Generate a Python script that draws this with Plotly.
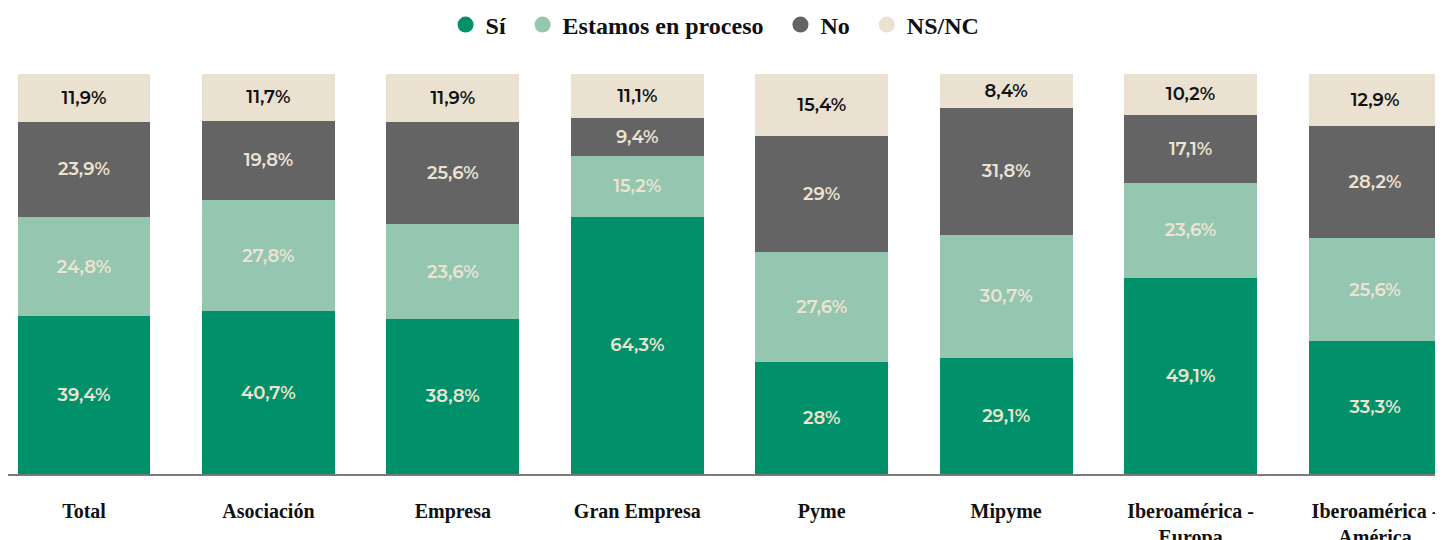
import plotly.graph_objects as go

categories = ["Total", "Asociación", "Empresa", "Gran Empresa", "Pyme", "Mipyme",
              "Iberoamérica -<br>Europa", "Iberoamérica -<br>América"]
si = [39.4, 40.7, 38.8, 64.3, 28, 29.1, 49.1, 33.3]
proceso = [24.8, 27.8, 23.6, 15.2, 27.6, 30.7, 23.6, 25.6]
no = [23.9, 19.8, 25.6, 9.4, 29, 31.8, 17.1, 28.2]
nsnc = [11.9, 11.7, 11.9, 11.1, 15.4, 8.4, 10.2, 12.9]

series = [
    ("Sí", si, "#00916A", "#EDE3D2"),
    ("Estamos en proceso", proceso, "#94C6B0", "#EDE3D2"),
    ("No", no, "#646464", "#EDE3D2"),
    ("NS/NC", nsnc, "#EAE1D1", "#111111"),
]

def fmt(v):
    return f"{v:g}".replace(".", ",") + "%"

fig = go.Figure()
for k, (name, vals, color, tcolor) in enumerate(series):
    fig.add_trace(go.Bar(
        x=categories, y=vals, name=name, marker=dict(color=color, line=dict(width=0)),
        width=0.72, text=[fmt(v) for v in vals], textposition="inside",
        insidetextanchor="middle", textangle=0,
        textfont=dict(family="Montserrat, Open Sans, sans-serif", size=18, color=tcolor, weight=600),
        showlegend=False, hoverinfo="skip",
    ))
    pad = "\u00a0\u00a0" if k < len(series) - 1 else ""
    fig.add_trace(go.Scatter(
        x=[None], y=[None], mode="markers", name=name + pad,
        marker=dict(color=color, size=17, symbol="circle"), showlegend=True,
    ))

fig.update_layout(
    barmode="stack",
    width=1443, height=540,
    margin=dict(l=0, r=0, t=66, b=74, autoexpand=False),
    plot_bgcolor="white", paper_bgcolor="white",
    uniformtext=dict(minsize=8, mode="show"),
    legend=dict(orientation="h", x=0.49, xanchor="center", y=1.1225, yanchor="middle",
                font=dict(family="Liberation Serif, serif", size=24, color="#111111", weight=700),
                itemsizing="trace", itemwidth=30, traceorder="normal"),
    xaxis=dict(range=[-0.412, 7.412], showline=True, linecolor="#7a7a7a", linewidth=2,
               ticks="", ticklabelstandoff=18, showgrid=False, zeroline=False, automargin=False,
               tickfont=dict(family="Liberation Serif, serif", size=20, color="#111111", weight=700)),
    yaxis=dict(range=[0, 100], visible=False, showgrid=False, zeroline=False, automargin=False),
)

fig.write_html("out.html")
